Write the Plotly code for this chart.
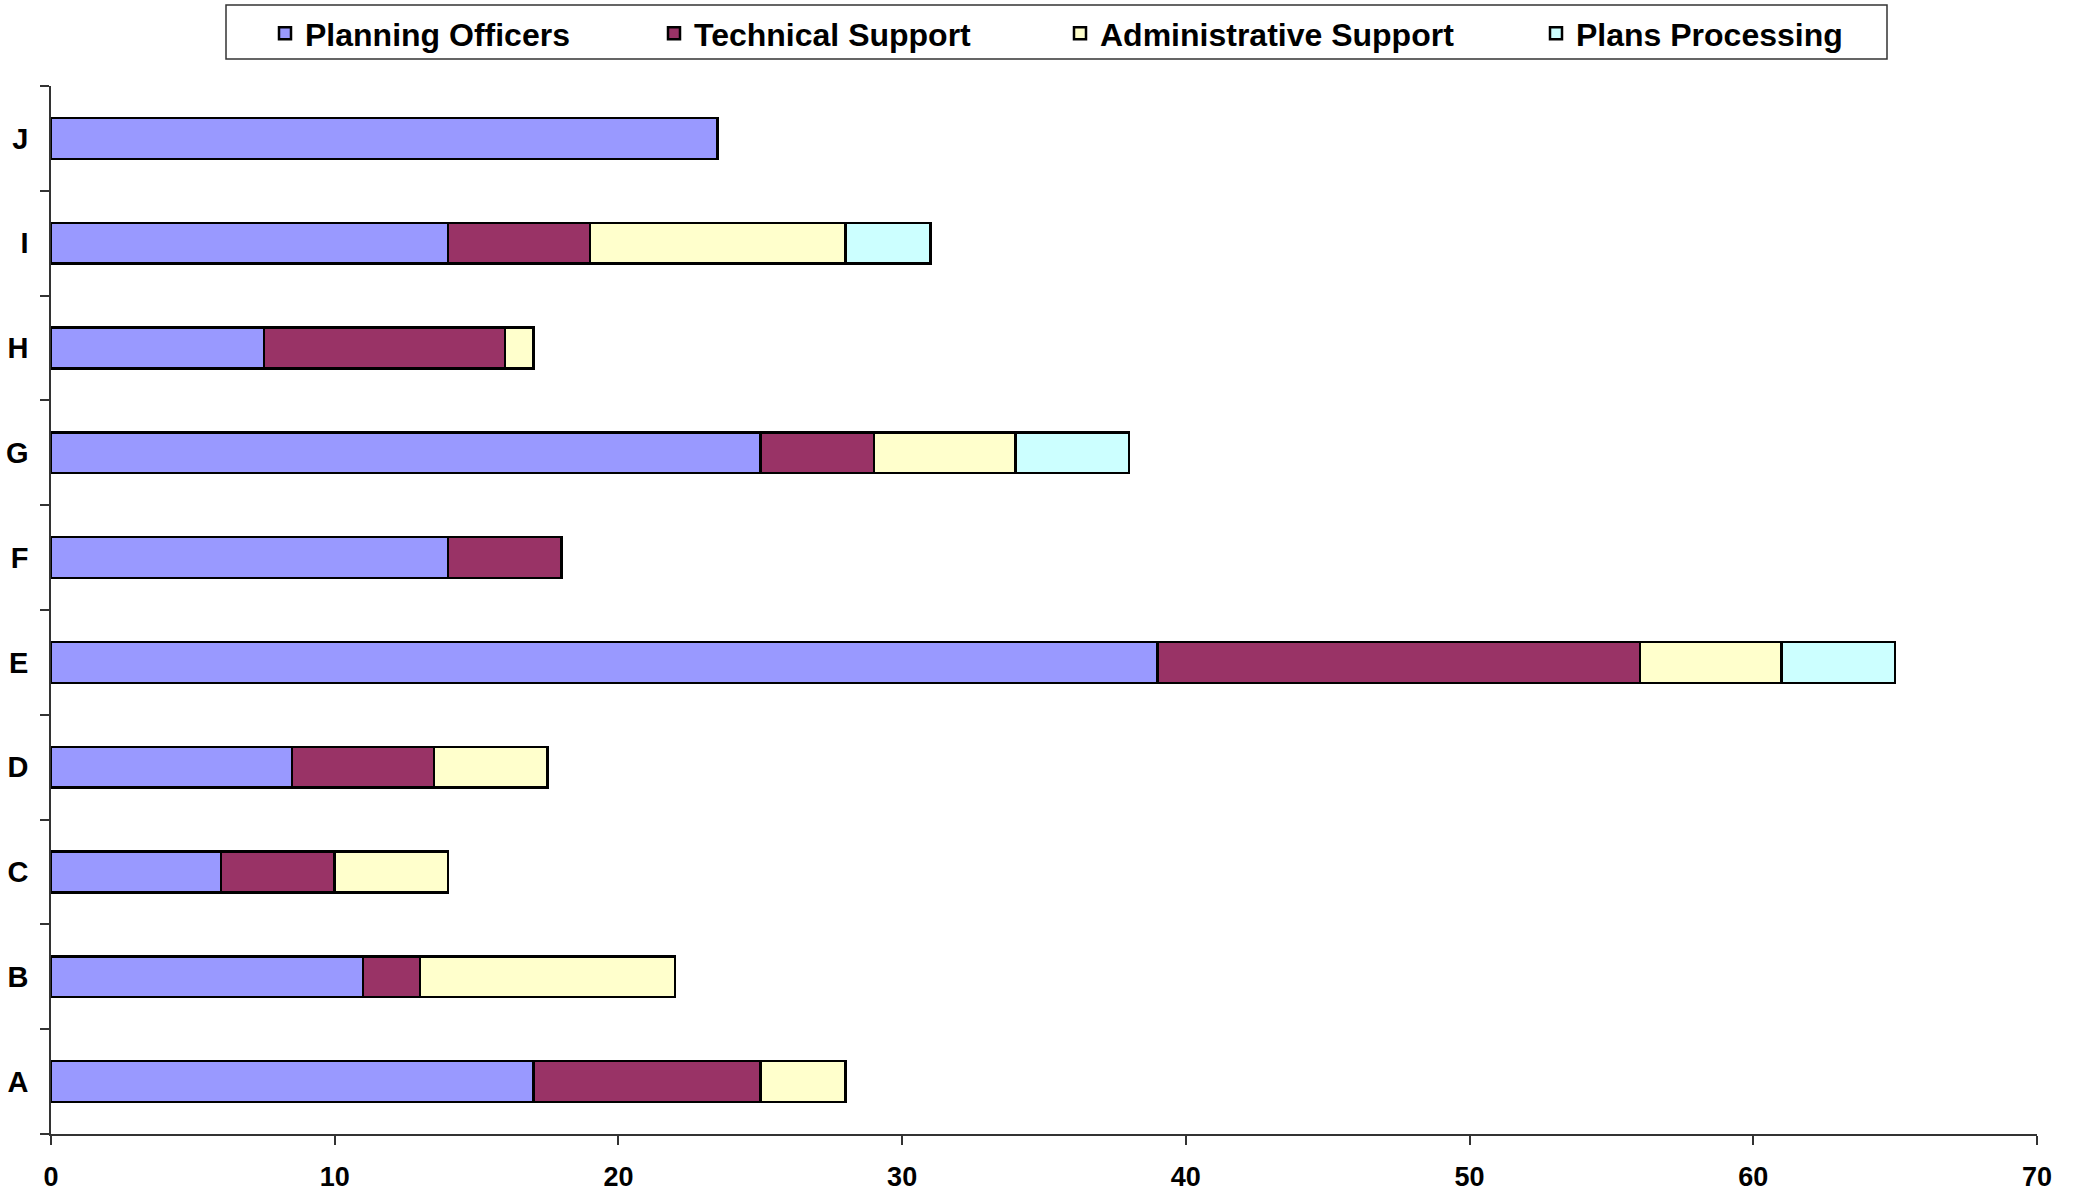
import plotly.graph_objects as go

# Staff numbers by team (A-J), stacked by role
teams = ["A", "B", "C", "D", "E", "F", "G", "H", "I", "J"]
planning_officers = [17, 11, 6, 8.5, 39, 14, 25, 7.5, 14, 23.5]
technical_support = [8, 2, 4, 5, 17, 4, 4, 8.5, 5, 0]
admin_support = [3, 9, 4, 4, 5, 0, 5, 1, 9, 0]
plans_processing = [0, 0, 0, 0, 4, 0, 4, 0, 3, 0]
x_ticks = [0, 10, 20, 30, 40, 50, 60, 70]

series = [
    ("Planning Officers", planning_officers, "#9999FF"),
    ("Technical Support", technical_support, "#993366"),
    ("Administrative Support", admin_support, "#FFFFCC"),
    ("Plans Processing", plans_processing, "#CCFFFF"),
]

FONT = "Liberation Sans, Arial, sans-serif"
W, H = 2080, 1194
L, R, T, B = 51, 43, 86, 60
PW, PH = W - L - R, H - T - B

# one legend per series so the entries can be spaced like the original
legend_x = [265, 654, 1060, 1536]

fig = go.Figure()
for i, (name, vals, color) in enumerate(series):
    fig.add_trace(go.Bar(
        y=teams, x=vals, name=name, orientation="h",
        legend="legend" if i == 0 else f"legend{i + 1}",
        marker=dict(color=color, line=dict(color="black", width=2.5)),
    ))

legends = {}
for i, lx in enumerate(legend_x):
    key = "legend" if i == 0 else f"legend{i + 1}"
    legends[key] = dict(
        orientation="h", x=lx / W, xanchor="left", xref="container",
        y=1 - 6 / H, yanchor="top", yref="container",
        font=dict(family=FONT, size=32, color="black", weight="bold"),
        bgcolor="rgba(0,0,0,0)", borderwidth=0,
    )

fig.update_layout(
    barmode="stack",
    bargap=0.61,
    width=W, height=H,
    margin=dict(l=L, r=R, t=T, b=B),
    plot_bgcolor="white", paper_bgcolor="white",
    font=dict(family=FONT, color="black"),
    showlegend=True,
    **legends,
)

# frame around the legend entries
fig.add_shape(
    type="rect", xref="paper", yref="paper",
    x0=(226 - L) / PW, x1=(1887 - L) / PW,
    y0=(H - B - 59) / PH, y1=(H - B - 5) / PH,
    line=dict(color="#333", width=1.5), fillcolor="rgba(0,0,0,0)",
)

fig.update_xaxes(
    range=[0, 70], tickvals=x_ticks, showgrid=False, zeroline=False,
    showline=True, linecolor="#333", linewidth=1.5, automargin=False,
    ticks="outside", ticklen=9, tickcolor="#333", tickwidth=1.5,
    ticklabelstandoff=9,
    tickfont=dict(family=FONT, size=27, color="black", weight="bold"),
)
fig.update_yaxes(
    range=[-0.5, 9.5], showgrid=False, zeroline=False,
    showline=True, linecolor="#333", linewidth=1.5, automargin=False,
    ticks="outside", ticklen=9, tickcolor="#333", tickwidth=1.5,
    tickson="boundaries", ticklabelstandoff=15,
    tickfont=dict(family=FONT, size=29, color="black", weight="bold"),
)

# drop the default 8px page margin so the figure sits flush in the window
fig.write_html("out.html", config={"displayModeBar": False},
               post_script="document.body.style.margin='0';")
